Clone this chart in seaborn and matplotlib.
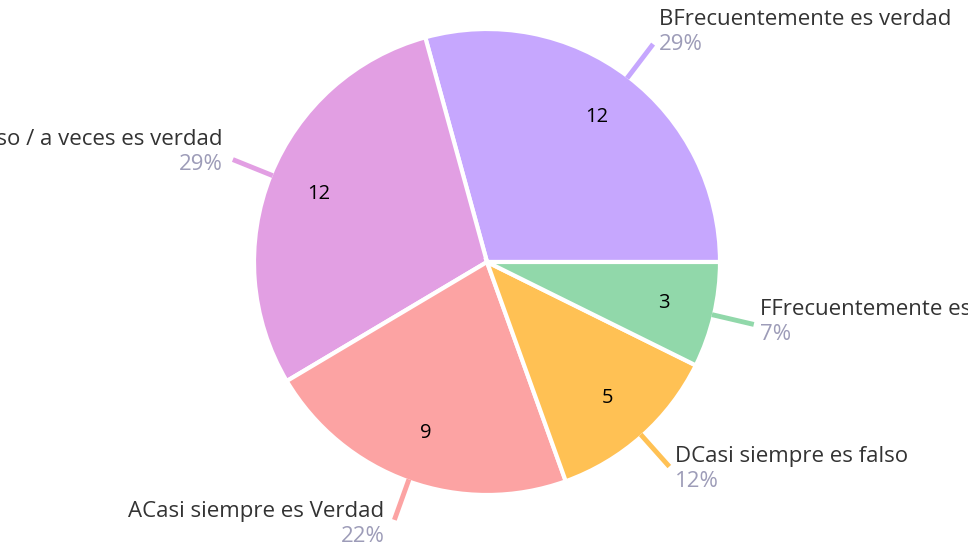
import numpy as np
import matplotlib
matplotlib.use("Agg")
import matplotlib.pyplot as plt
import seaborn as sns

# Data (counter-clockwise from 3 o'clock)
categories = ["BFrecuentemente es verdad",
              "CA veces es falso / a veces es verdad",
              "ACasi siempre es Verdad",
              "DCasi siempre es falso",
              "FFrecuentemente es falso"]
values = [12, 12, 9, 5, 3]
colors = ["#C6A7FE", "#E29FE3", "#FCA3A3", "#FFC154", "#91D8AA"]

sns.set_theme(style="white")
plt.rcParams['font.family'] = ['Open Sans', 'DejaVu Sans']

W, H = 968, 548
fig = plt.figure(figsize=(W / 100, H / 100), dpi=100)
ax = fig.add_axes([0, 0, 1, 1])

cx, cy, R = 487, H - 262, 233
wedges, _ = ax.pie(values, colors=colors, startangle=0, counterclock=True,
                   center=(cx, cy), radius=R,
                   wedgeprops=dict(edgecolor="white", linewidth=3))

total = sum(values)
for w, cat, v, col in zip(wedges, categories, values, colors):
    ang = np.deg2rad((w.theta1 + w.theta2) / 2)
    c, s = np.cos(ang), np.sin(ang)
    # inner value
    ax.text(cx + 0.78 * R * c, cy + 0.78 * R * s, str(v), ha="center",
            va="center", fontsize=14.5, color="black")
    # leader line
    x0, y0 = cx + (R - 2) * c, cy + (R - 2) * s
    x1, y1 = cx + 274 * c, cy + 274 * s
    ax.plot([x0, x1], [y0, y1], color=col, lw=3.5, solid_capstyle="butt")
    ha = "left" if c > 0 else "right"
    tx = x1 + (6 if c > 0 else -10)
    py = y1 - 18 * (1 - s) / 2 + 1
    pct = f"{round(v / total * 100)}%"
    ax.text(tx, py, pct, ha=ha, va="center", fontsize=16, color="#9D9CB8")
    ax.text(tx, py + 25, cat, ha=ha, va="center", fontsize=16, color="#333333")

ax.set_xlim(0, W)
ax.set_ylim(0, H)
ax.set_aspect("equal")
ax.axis("off")

fig.savefig("out.png", dpi=100)
